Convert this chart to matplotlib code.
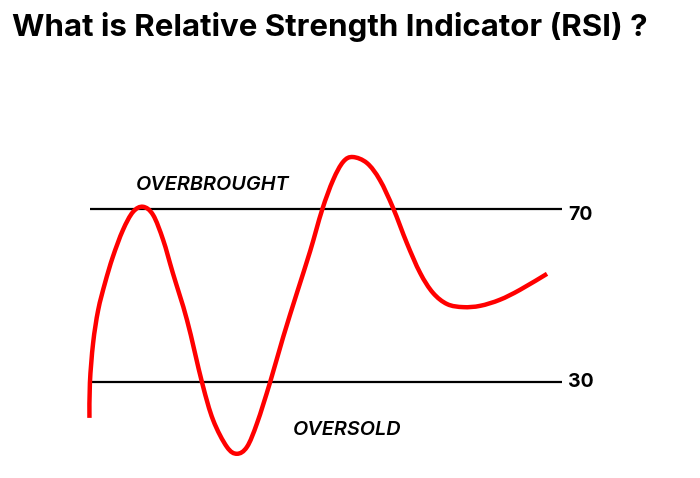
import matplotlib
matplotlib.use("Agg")
import matplotlib.pyplot as plt
import numpy as np
from matplotlib.path import Path
from matplotlib.patches import PathPatch

# Data
time = [0.1, 0.2, 0.9, 2.0, 3.5, 5.2, 7.4, 9.6, 11.8, 14.0, 16.2, 18.3, 21.4,
        24.7, 27.1, 30.1, 32.3, 34.5, 36.7, 39.5, 42.4, 45.4, 48.3, 50.9,
        53.3, 55.5, 57.6, 60.7, 63.5, 66.4, 69.4, 72.3, 75.1, 78.2, 81.7,
        85.4, 89.7, 94.1, 100.0]
rsi = [21.7, 29.8, 39.0, 46.6, 52.9, 58.9, 65.1, 69.3, 70.5, 68.6, 62.8, 55.2,
       44.3, 29.8, 21.2, 15.0, 13.4, 15.0, 20.5, 29.8, 40.4, 50.6, 60.3, 69.8,
       76.7, 80.9, 82.0, 80.6, 76.7, 70.2, 62.1, 55.2, 50.6, 48.0, 47.3,
       47.6, 49.0, 51.3, 55.0]
levels = [70, 30]
level_labels = ["70", "30"]
zone_labels = ["OVERBROUGHT", "OVERSOLD"]
title = "What is Relative Strength Indicator (RSI) ?"

fig = plt.figure(figsize=(7, 4.78), dpi=100)
ax = fig.add_axes([0, 0, 1, 1])
ax.set_xlim(-19.43, 133.4)
ax.set_ylim(7.8, 118.3)
ax.axis("off")

for lv, lab, dy in zip(levels, level_labels, [-1.5, -0.1]):
    ax.plot([0.2, 103.3], [lv, lv], color="black", lw=1.6, solid_capstyle="butt", zorder=1)
    ax.text(104.6, lv + dy, lab, fontsize=14, fontweight="bold", family="Inter",
            va="center", ha="left", color="black")

# smooth rendering of the read points (Catmull-Rom as cubic Bezier path)
pts = np.column_stack([time, rsi])
verts = [pts[0]]
codes = [Path.MOVETO]
n = len(pts)
for i in range(n - 1):
    p0 = pts[max(i - 1, 0)]
    p1 = pts[i]
    p2 = pts[i + 1]
    p3 = pts[min(i + 2, n - 1)]
    c1 = p1 + (p2 - p0) / 6.0
    c2 = p2 - (p3 - p1) / 6.0
    verts += [c1, c2, p2]
    codes += [Path.CURVE4] * 3
ax.add_patch(PathPatch(Path(verts, codes), fill=False, edgecolor="#ff0000",
                       lw=3.2, joinstyle="round", capstyle="butt", zorder=2))

ax.text(10.3, 75.5, zone_labels[0], fontsize=14.3, fontstyle="italic",
        fontweight="semibold", family="Inter", va="center", ha="left")
ax.text(44.5, 18.9, zone_labels[1], fontsize=14.3, fontstyle="italic",
        fontweight="semibold", family="Inter", va="center", ha="left")

fig.text(12 / 700, 1 - 27 / 478, title, fontsize=22.5, fontweight="bold",
         family="Inter", va="center", ha="left")

fig.savefig("out.png", dpi=100, facecolor="white")
